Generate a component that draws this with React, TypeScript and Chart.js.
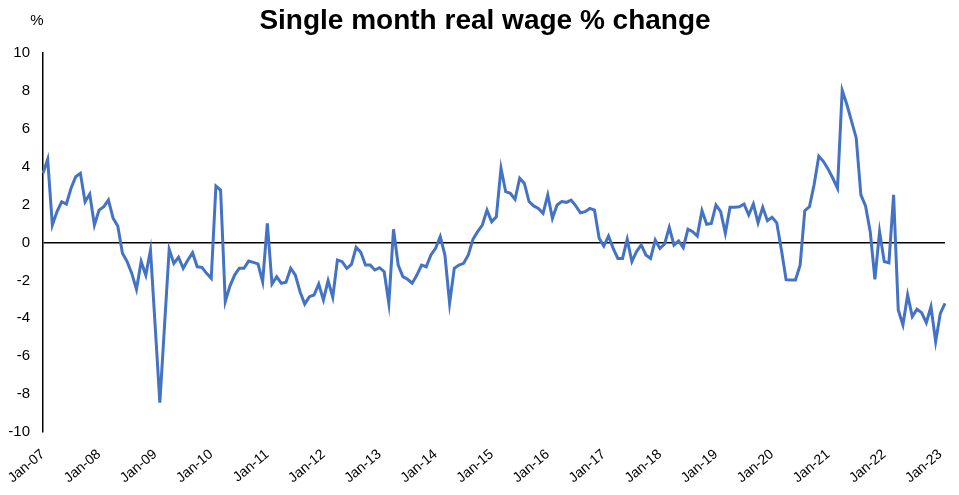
import { useEffect, useRef } from "react"
import { Chart, registerables } from "chart.js"

Chart.register(...registerables)

// tick labels shown on the x axis (every January)
const tickLabels = [
  "Jan-07", "Jan-08", "Jan-09", "Jan-10", "Jan-11", "Jan-12", "Jan-13", "Jan-14",
  "Jan-15", "Jan-16", "Jan-17", "Jan-18", "Jan-19", "Jan-20", "Jan-21", "Jan-22", "Jan-23",
]
const monthNames = ["Jan", "Feb", "Mar", "Apr", "May", "Jun", "Jul", "Aug", "Sep", "Oct", "Nov", "Dec"]
const firstYear = 7

// monthly real wage % change, Jan-07 .. Feb-23
const wageChange = [
  3.65, 4.39, 0.92, 1.63, 2.15, 2.03, 2.86, 3.47, 3.65, 2.15, 2.56, 0.92,
  1.71, 1.89, 2.24, 1.28, 0.87, -0.57, -1.01, -1.63, -2.47, -1.01, -1.72, -0.4,
  -4.4, -8.45, -4.4, -0.36, -1.1, -0.78, -1.36, -0.92, -0.54, -1.28, -1.31, -1.63,
  -1.89, 2.98, 2.77, -3.12, -2.3, -1.72, -1.36, -1.36, -0.98, -1.05, -1.13, -2.07,
  1.01, -2.19, -1.8, -2.15, -2.1, -1.36, -1.72, -2.6, -3.25, -2.86, -2.77, -2.19,
  -3.03, -2.01, -2.89, -0.92, -1.01, -1.36, -1.15, -0.25, -0.52, -1.19, -1.19, -1.45,
  -1.33, -1.54, -3.21, 0.7, -1.19, -1.8, -1.94, -2.15, -1.72, -1.19, -1.28, -0.66,
  -0.31, 0.31, -0.66, -3.21, -1.36, -1.19, -1.1, -0.66, 0.17, 0.57, 0.92, 1.71,
  1.1, 1.36, 3.92, 2.68, 2.6, 2.28, 3.39, 3.12, 2.16, 1.93, 1.8, 1.54,
  2.51, 1.28, 1.98, 2.16, 2.12, 2.24, 1.93, 1.57, 1.63, 1.8, 1.71, 0.22,
  -0.19, 0.34, -0.31, -0.84, -0.84, 0.17, -1.01, -0.48, -0.13, -0.66, -0.84, 0.13,
  -0.31, -0.08, 0.8, -0.13, 0.08, -0.27, 0.7, 0.57, 0.34, 1.68, 0.96, 1.01,
  1.98, 1.63, 0.49, 1.86, 1.86, 1.89, 2.03, 1.45, 2.03, 1.04, 1.86, 1.15,
  1.33, 1.04, -0.4, -1.96, -1.98, -1.98, -1.2, 1.68, 1.89, 3.06, 4.56, 4.27,
  3.87, 3.39, 2.86, 8.03, 7.28, 6.4, 5.52, 2.51, 1.93, 0.57, -1.94, 0.57,
  -1.01, -1.07, 2.51, -3.56, -4.35, -2.77, -3.91, -3.52, -3.7, -4.23, -3.39, -5.23,
  -3.74, -3.21,
]

const months = wageChange.map(
  (_, i) => `${monthNames[i % 12]}-${String(firstYear + Math.floor(i / 12)).padStart(2, "0")}`
)

const FONT = "'Liberation Sans', Arial, sans-serif"

const textPlugin = {
  id: "titleText",
  afterDraw(chart: Chart) {
    const { ctx } = chart
    ctx.save()
    ctx.fillStyle = "#000"
    ctx.textAlign = "center"
    ctx.textBaseline = "alphabetic"
    ctx.font = `bold 28px ${FONT}`
    ctx.fillText("Single month real wage % change", 485, 29)
    ctx.font = `15px ${FONT}`
    ctx.fillText("%", 37, 25)
    ctx.restore()
  },
}

export default function App() {
  const chartRef = useRef<HTMLCanvasElement>(null)
  const chartInstance = useRef<Chart | null>(null)

  useEffect(() => {
    if (chartRef.current) {
      if (chartInstance.current) {
        chartInstance.current.destroy()
      }
      const ctx = chartRef.current.getContext("2d")
      if (ctx) {
        chartInstance.current = new Chart(ctx, {
          type: "line",
          data: {
            labels: months,
            datasets: [
              {
                data: wageChange,
                borderColor: "#4472C4",
                borderWidth: 3,
                pointRadius: 0,
                tension: 0,
                fill: false,
              },
            ],
          },
          options: {
            responsive: true,
            maintainAspectRatio: false,
            animation: false,
            layout: { padding: { top: 53, left: 8, right: 14, bottom: 4 } },
            plugins: {
              legend: { display: false },
              tooltip: { enabled: false },
            },
            scales: {
              x: {
                border: { display: false },
                grid: { display: false, drawTicks: false },
                afterFit: (scale) => {
                  scale.height = 59
                  scale.paddingLeft = 0
                  scale.paddingRight = 0
                },
                ticks: {
                  autoSkip: false,
                  minRotation: 40,
                  maxRotation: 40,
                  padding: 14,
                  color: "#000",
                  font: { family: FONT, size: 14 },
                  callback: (_v, index) => {
                    const lab = months[index]
                    return tickLabels.includes(lab) ? lab : null
                  },
                },
              },
              y: {
                min: -10,
                max: 10,
                afterFit: (scale) => {
                  scale.width = 35
                },
                border: { display: true, color: "#000", width: 1.5 },
                grid: {
                  drawTicks: false,
                  lineWidth: 1.5,
                  color: (c) => (c.tick && c.tick.value === 0 ? "#000" : "rgba(0,0,0,0)"),
                },
                ticks: {
                  stepSize: 2,
                  padding: 13,
                  color: "#000",
                  font: { family: FONT, size: 15 },
                },
              },
            },
          },
          plugins: [textPlugin],
        })
      }
    }
    return () => {
      if (chartInstance.current) {
        chartInstance.current.destroy()
        chartInstance.current = null
      }
    }
  }, [])

  return (
    <div style={{ position: "fixed", left: 0, top: 0, width: 959, height: 495 }}>
      <canvas ref={chartRef} />
    </div>
  )
}
